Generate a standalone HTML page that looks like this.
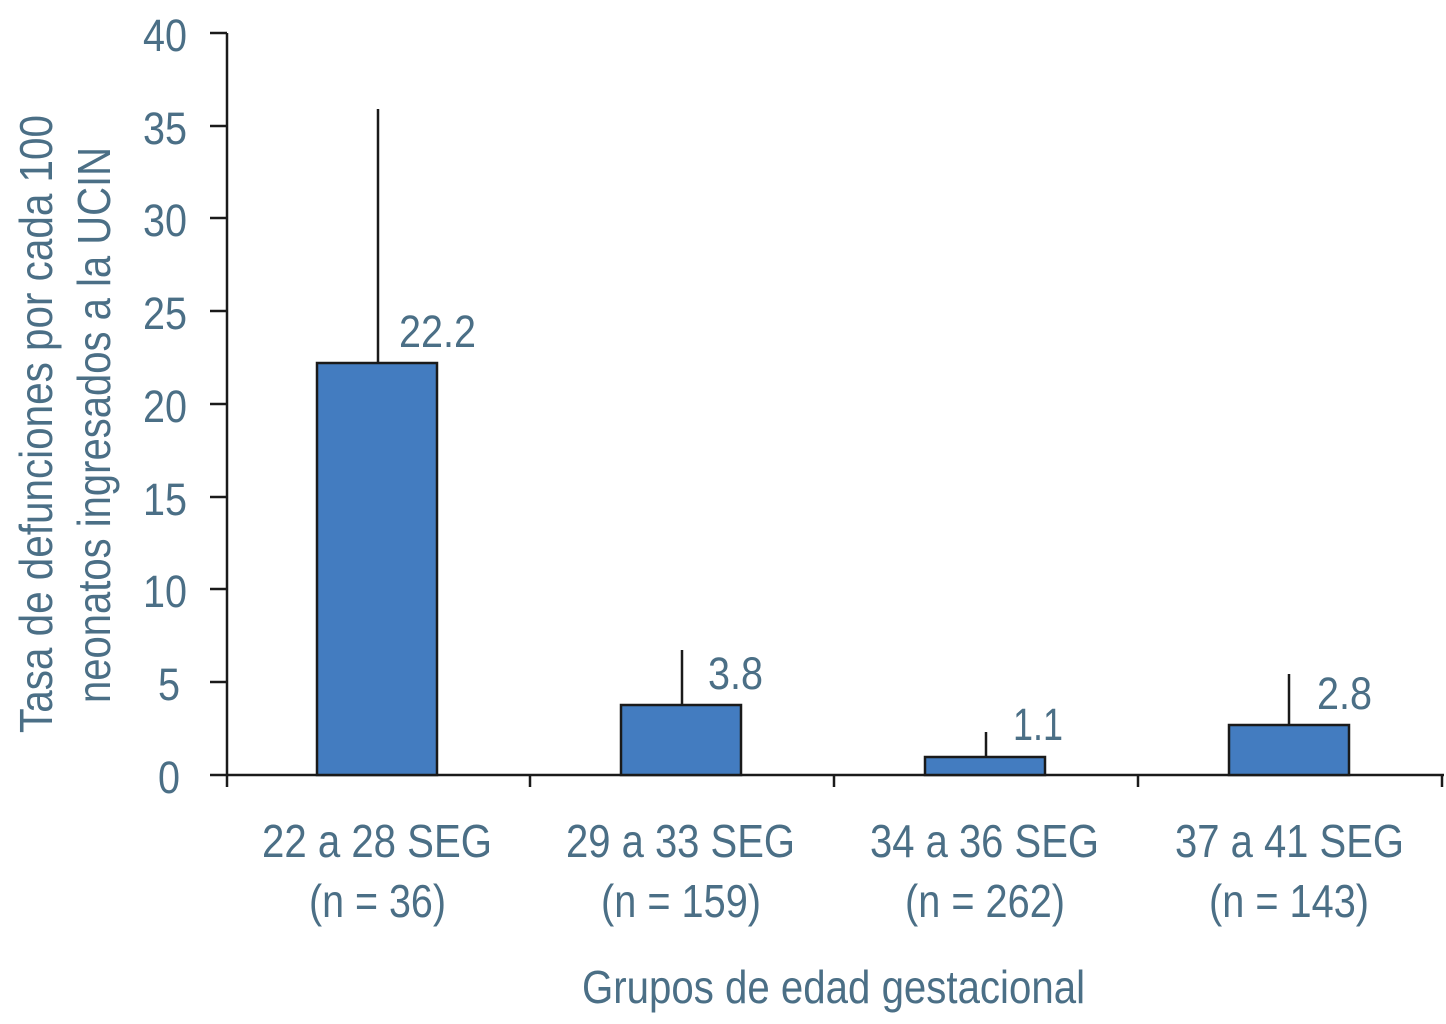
<!DOCTYPE html>
<html><head><meta charset="utf-8"><style>
html,body{margin:0;padding:0;background:#fff;}
svg{display:block;}
text{font-family:"Liberation Sans Narrow","Liberation Sans",sans-serif;fill:#4b6f86;}
</style></head><body>
<svg width="1446" height="1024" viewBox="0 0 1446 1024" xmlns="http://www.w3.org/2000/svg">
<g stroke="#1a1a1a" stroke-width="2.5" fill="none">
<line x1="227" y1="33" x2="227" y2="787"/>
<line x1="226" y1="775" x2="1444" y2="775"/>
<line x1="210" y1="33" x2="227" y2="33"/>
<line x1="210" y1="126" x2="227" y2="126"/>
<line x1="210" y1="218" x2="227" y2="218"/>
<line x1="210" y1="311" x2="227" y2="311"/>
<line x1="210" y1="404" x2="227" y2="404"/>
<line x1="210" y1="497" x2="227" y2="497"/>
<line x1="210" y1="589" x2="227" y2="589"/>
<line x1="210" y1="682" x2="227" y2="682"/>
<line x1="210" y1="775" x2="227" y2="775"/>
<line x1="530" y1="775" x2="530" y2="787"/>
<line x1="834" y1="775" x2="834" y2="787"/>
<line x1="1138" y1="775" x2="1138" y2="787"/>
<line x1="1442" y1="775" x2="1442" y2="787"/>
<line x1="378" y1="109" x2="378" y2="363"/>
<line x1="682" y1="650" x2="682" y2="705"/>
<line x1="986" y1="732" x2="986" y2="757"/>
<line x1="1289" y1="674" x2="1289" y2="725"/>
</g>
<g fill="#437cc0" stroke="#1a1a1a" stroke-width="2.5">
<rect x="317" y="363" width="120" height="412"/>
<rect x="621" y="705" width="120" height="70"/>
<rect x="925" y="757" width="120" height="18"/>
<rect x="1229" y="725" width="120" height="50"/>
</g>
<g font-size="45" text-anchor="end" lengthAdjust="spacingAndGlyphs">
<text x="187" y="51" textLength="44" lengthAdjust="spacingAndGlyphs">40</text>
<text x="187" y="144" textLength="44" lengthAdjust="spacingAndGlyphs">35</text>
<text x="187" y="236" textLength="44" lengthAdjust="spacingAndGlyphs">30</text>
<text x="187" y="329" textLength="44" lengthAdjust="spacingAndGlyphs">25</text>
<text x="187" y="422" textLength="44" lengthAdjust="spacingAndGlyphs">20</text>
<text x="187" y="515" textLength="44" lengthAdjust="spacingAndGlyphs">15</text>
<text x="187" y="607" textLength="44" lengthAdjust="spacingAndGlyphs">10</text>
<text x="180" y="700" textLength="22" lengthAdjust="spacingAndGlyphs">5</text>
<text x="180" y="793" textLength="22" lengthAdjust="spacingAndGlyphs">0</text>
</g>
<g font-size="45">
<text x="399" y="347" textLength="77" lengthAdjust="spacingAndGlyphs">22.2</text>
<text x="708" y="689" textLength="55" lengthAdjust="spacingAndGlyphs">3.8</text>
<text x="1013" y="740" textLength="50" lengthAdjust="spacingAndGlyphs">1.1</text>
<text x="1317" y="709" textLength="55" lengthAdjust="spacingAndGlyphs">2.8</text>
</g>
<g font-size="46">
<text x="262" y="857" textLength="230" lengthAdjust="spacingAndGlyphs">22 a 28 SEG</text>
<text x="309" y="917" textLength="137" lengthAdjust="spacingAndGlyphs">(n = 36)</text>
<text x="566" y="857" textLength="229" lengthAdjust="spacingAndGlyphs">29 a 33 SEG</text>
<text x="601" y="917" textLength="160" lengthAdjust="spacingAndGlyphs">(n = 159)</text>
<text x="870" y="857" textLength="229" lengthAdjust="spacingAndGlyphs">34 a 36 SEG</text>
<text x="905" y="917" textLength="160" lengthAdjust="spacingAndGlyphs">(n = 262)</text>
<text x="1175" y="857" textLength="229" lengthAdjust="spacingAndGlyphs">37 a 41 SEG</text>
<text x="1209" y="917" textLength="160" lengthAdjust="spacingAndGlyphs">(n = 143)</text>
<text x="582" y="1003" textLength="503" lengthAdjust="spacingAndGlyphs">Grupos de edad gestacional</text>
</g>
<g font-size="46">
<text transform="translate(52,733) rotate(-90)" textLength="618" lengthAdjust="spacingAndGlyphs">Tasa de defunciones por cada 100</text>
<text transform="translate(110,703) rotate(-90)" textLength="556" lengthAdjust="spacingAndGlyphs">neonatos ingresados a la UCIN</text>
</g>
</svg>
</body></html>
